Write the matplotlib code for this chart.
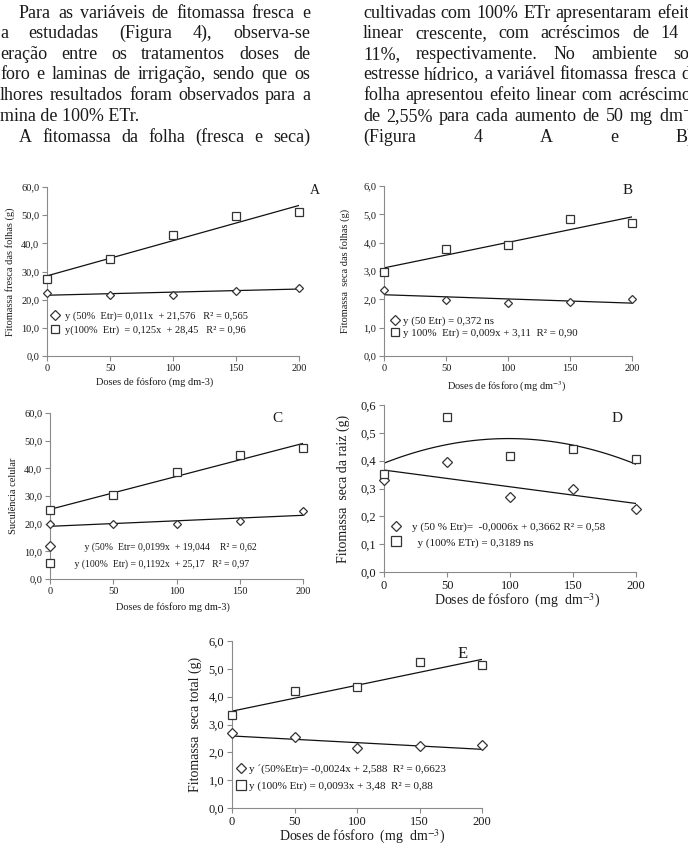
import numpy as np
import matplotlib
matplotlib.use('Agg')
import matplotlib.pyplot as plt
from matplotlib.lines import Line2D
from matplotlib.ticker import FuncFormatter

plt.rcParams['font.family'] = ['Liberation Serif', 'DejaVu Serif']
plt.rcParams['mathtext.fontset'] = 'stix'

# ---- data ----
doses = [0, 50, 100, 150, 200]

a_50 = [22.3, 21.7, 21.5, 23.0, 24.2]
a_100 = [27.5, 34.3, 43.0, 49.8, 51.2]
b_50 = [2.33, 1.98, 1.86, 1.90, 2.00]
b_100 = [2.97, 3.78, 3.92, 4.82, 4.70]
c_50 = [20.0, 19.8, 19.7, 20.8, 24.5]
c_100 = [24.8, 30.4, 38.8, 44.8, 47.3]
d_50 = [0.330, 0.397, 0.268, 0.300, 0.225]
d_100 = [0.352, 0.557, 0.416, 0.441, 0.405]
e_50 = [2.68, 2.54, 2.15, 2.21, 2.28]
e_100 = [3.33, 4.19, 4.36, 5.26, 5.13]

# trend line coefficients (slope, intercept) as given in the legends
fit_a_50 = [0.011, 21.576]
fit_a_100 = [0.125, 28.45]
fit_b_100 = [0.009, 3.11]
fit_c_50 = [0.0199, 19.044]
fit_c_100 = [0.1192, 25.17]
fit_d_50 = [-0.0006, 0.3662]
fit_e_50 = [-0.0024, 2.588]
fit_e_100 = [0.0093, 3.48]

lab_a = ["y (50%  Etr)= 0,011x  + 21,576   R² = 0,565",
         "y(100%  Etr)  = 0,125x  + 28,45   R² = 0,96"]
lab_b = ["y (50 Etr) = 0,372 ns",
         "y 100%  Etr) = 0,009x + 3,11  R² = 0,90"]
lab_c = ["           y (50%  Etr= 0,0199x  + 19,044    R² = 0,62",
         "       y (100%  Etr) = 0,1192x  + 25,17   R² = 0,97"]
lab_d = ["y (50 % Etr)=  -0,0006x + 0,3662 R² = 0,58",
         "  y (100% ETr) = 0,3189 ns"]
lab_e = ["y \u00b4(50%Etr)= -0,0024x + 2,588  R² = 0,6623",
         "y (100% Etr) = 0,0093x + 3,48  R² = 0,88"]

left_lines = [
    "Para as variáveis de fitomassa fresca e",
    "a estudadas (Figura 4), observa-se",
    "eração entre os tratamentos doses de",
    "foro e laminas de irrigação, sendo que os",
    "lhores resultados foram observados para a",
    "mina de 100% ETr.",
    "A fitomassa da folha (fresca e seca)",
]
right_lines = [
    "cultivadas com 100% ETr apresentaram efeito",
    "linear crescente, com acréscimos de 14 e",
    "11%, respectivamente. No ambiente sob",
    "estresse hídrico, a variável fitomassa fresca da",
    "folha apresentou efeito linear com acréscimos",
    "de 2,55% para cada aumento de 50 mg dm$^{-3}$",
    "(Figura 4 A e B).",
]

W, H = 688, 848
INK = '#1a1a1a'
AXC = '#8a8a8a'

fig = plt.figure(figsize=(W / 100, H / 100), dpi=100)
rend = fig.canvas.get_renderer()


def put_line(text, x0, x1, base, fs, justify=True):
    words = text.split(' ')
    if not justify or len(words) == 1:
        fig.text(x0 / W, 1 - base / H, text, fontsize=fs, va='baseline', color=INK)
        return
    ts = [fig.text(0, 1 - base / H, w, fontsize=fs, va='baseline', color=INK) for w in words]
    ws = [t.get_window_extent(rend).width for t in ts]
    gap = (x1 - x0 - sum(ws)) / (len(words) - 1)
    x = x0
    for t, w in zip(ts, ws):
        t.set_x(x / W)
        x += w + gap


bases = [18, 38, 59, 79, 100, 121, 142]
left_start = [19, 0, 0, 0, 0, 0, 19]
for i, ln in enumerate(left_lines):
    put_line(ln, left_start[i], 310, bases[i], 13, justify=(i != 5))
for i, ln in enumerate(right_lines):
    put_line(ln, 363, 698, bases[i], 13)


def px2ax(ax, x, y):
    b = ax.get_position()
    return ((x / W - b.x0) / b.width, ((1 - y / H) - b.y0) / b.height)


def comma(v, _):
    return f"{v:.1f}".replace('.', ',')


def panel(box, ylim, ystep, s50, s100, fits, labels, letter, xlab, ylab, st):
    x0, x1, yt, yb = box
    ax = fig.add_axes([x0 / W, 1 - yb / H, (x1 - x0) / W, (yb - yt) / H])
    ax.set_xlim(0, 200)
    ax.set_ylim(*ylim)
    ax.set_xticks(doses)
    ax.set_yticks(np.arange(ylim[0], ylim[1] + ystep / 2, ystep))
    ax.yaxis.set_major_formatter(FuncFormatter(comma))
    for s in ['top', 'right']:
        ax.spines[s].set_visible(False)
    for s in ['left', 'bottom']:
        ax.spines[s].set_color(AXC)
        ax.spines[s].set_linewidth(0.8)
    ax.tick_params(direction='out', length=3.5, width=0.8, color=AXC,
                   labelcolor=INK, labelsize=st['tick'], pad=2)

    xs = np.linspace(0, 200, 120)
    for coef in fits:
        ax.plot(xs, np.polyval(coef, xs), color='#111111', lw=0.9, zorder=2)
    mk = dict(ls='none', mfc='white', mec='#333333', mew=0.9, clip_on=False, zorder=3)
    ax.plot(doses, s50, marker='D', ms=st['ms'] - 1, **mk)
    ax.plot(doses, s100, marker='s', ms=st['ms'], **mk)

    h50 = Line2D([], [], marker='D', ms=st['ms'] - 0.5, **mk)
    h100 = Line2D([], [], marker='s', ms=st['ms'] + 0.5, **mk)
    lx, ly = st['leg']
    ax.legend([h50, h100], labels, loc='upper left',
              bbox_to_anchor=(lx / W, 1 - ly / H), bbox_transform=fig.transFigure,
              frameon=False, borderpad=0, borderaxespad=0, handlelength=0.8,
              handletextpad=st['hp'], labelspacing=st['ls'], fontsize=st['leg_fs'],
              labelcolor=INK)

    ax.set_xlabel(xlab, fontsize=st['lab'], color=INK, va='center')
    ax.set_ylabel(ylab, fontsize=st['lab'], color=INK, va='center')
    ax.xaxis.set_label_coords(*px2ax(ax, *st['xl']))
    ax.yaxis.set_label_coords(*px2ax(ax, *st['yl']))
    lxp, lyp = px2ax(ax, *st['let'])
    ax.text(lxp, lyp, letter, transform=ax.transAxes, fontsize=st['let_fs'],
            ha='center', va='center', color=INK)
    return ax


xlab_sup = "Doses de fósforo (mg dm$^{-3}$)"

panel((47, 299, 187, 356), (0, 60), 10, a_50, a_100, [fit_a_50, fit_a_100], lab_a,
      'A', "Doses de fósforo (mg dm-3)", "Fitomassa fresca das folhas (g)",
      dict(tick=7.5, ms=5.5, leg=(51, 311), hp=0.5, ls=0.45, leg_fs=7.5, lab=7.5,
           xl=(155, 382), yl=(10, 272), let=(315, 191), let_fs=10))

panel((384, 632, 186, 356), (0, 6), 1, b_50, b_100,
      [fit_b_100, np.polyfit(doses, b_50, 1)], lab_b,
      'B', xlab_sup, "Fitomassa  seca das folhas (g)",
      dict(tick=7.5, ms=5.5, leg=(391, 316), hp=0.3, ls=0.25, leg_fs=7.8, lab=7.5,
           xl=(507, 387), yl=(345, 271), let=(628, 191), let_fs=11))

panel((50, 303, 413, 579), (0, 60), 10, c_50, c_100, [fit_c_50, fit_c_100], lab_c,
      'C', "Doses de fósforo mg dm-3)", "Suculência celular",
      dict(tick=7.5, ms=5.5, leg=(46, 542), hp=0.3, ls=0.75, leg_fs=7, lab=7.5,
           xl=(173, 607), yl=(14, 496), let=(277, 418), let_fs=11))

panel((384, 636, 405, 572), (0, 0.6), 0.1, d_50, d_100,
      [fit_d_50, np.polyfit(doses, d_100, 2)], lab_d,
      'D', "Doses de fósforo  (mg  dm$^{-3}$)", "Fitomassa  seca da raiz (g)",
      dict(tick=9, ms=6, leg=(392, 522), hp=1.0, ls=0.5, leg_fs=8, lab=10,
           xl=(517, 601), yl=(343, 489), let=(617, 418), let_fs=11))

panel((232, 482, 641, 808), (0, 6), 1, e_50, e_100, [fit_e_50, fit_e_100], lab_e,
      'E', "Doses de fósforo  (mg  dm$^{-3}$)", "Fitomassa  seca total (g)",
      dict(tick=9, ms=6, leg=(237, 764), hp=0.3, ls=0.6, leg_fs=8, lab=10,
           xl=(362, 837), yl=(195, 724), let=(463, 654), let_fs=12))

fig.savefig('out.png', dpi=100)
